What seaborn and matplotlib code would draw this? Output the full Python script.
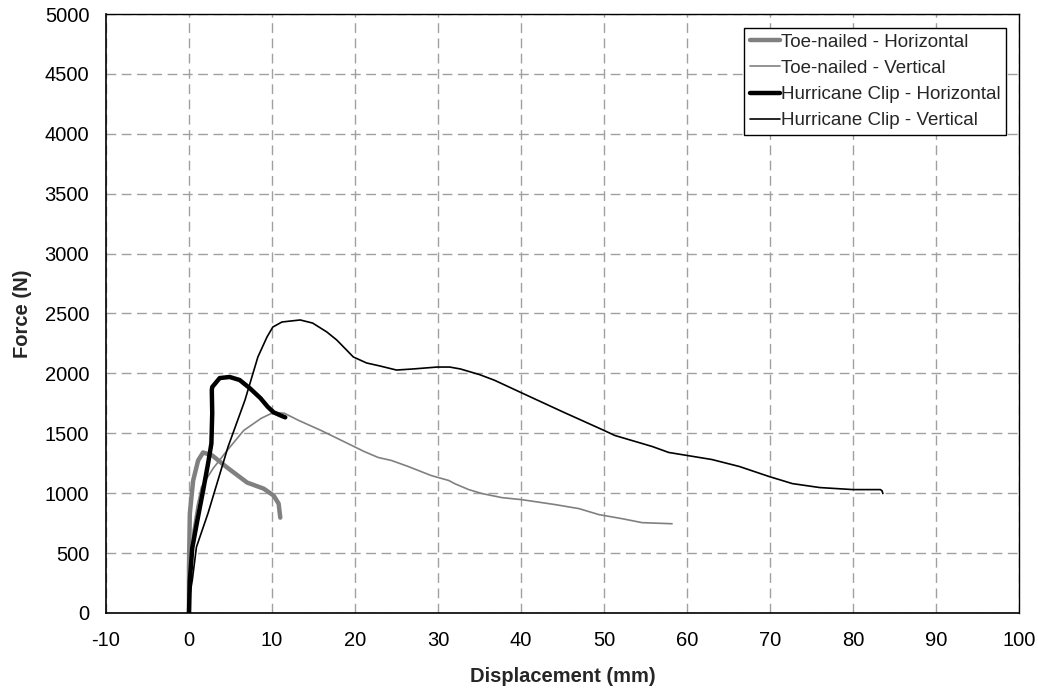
import matplotlib
matplotlib.use("Agg")
import matplotlib.pyplot as plt
import seaborn as sns
import pandas as pd

# ---- data ----
tn_h_x = [0, 0.0, 0.1, 0.5, 1.1, 1.7, 2.8, 4.6, 7.0, 9.0, 10.2, 10.8, 11.0]
tn_h_y = [0, 377, 829, 1105, 1273, 1340, 1315, 1214, 1089, 1038, 980, 913, 796]

tn_v_x = [0, 0.2, 0.5, 1.0, 1.5, 2.2, 2.9, 4.6, 6.6, 8.7, 10.2, 11.5, 13.2, 15.9,
          19.6, 21.1, 22.8, 24.4, 26.4, 29.2, 31.3, 32.0, 33.7, 35.3, 37.7, 40.1,
          44.1, 47.0, 48.2, 49.4, 52.2, 54.6, 58.2]
tn_v_y = [0, 400, 690, 900, 1050, 1130, 1206, 1357, 1524, 1625, 1675, 1667, 1608, 1524,
          1399, 1348, 1298, 1273, 1223, 1147, 1106, 1080, 1030, 997, 963, 946,
          905, 871, 846, 821, 787, 754, 745]

hc_h_x = [0, 0.1, 0.4, 1.0, 1.7, 2.3, 2.7, 2.8, 2.75, 2.8, 3.7, 4.9, 6.1, 7.3, 8.6,
          9.5, 10.2, 11.0, 11.6]
hc_h_y = [0, 268, 544, 770, 1022, 1248, 1415, 1667, 1860, 1886, 1961, 1970, 1945, 1878, 1794,
          1720, 1675, 1650, 1633]

hc_v_x = [0, 0.1, 0.4, 0.9, 2.3, 3.5, 4.7, 6.75, 8.3, 9.4, 10.1, 11.2, 13.4, 14.9, 16.6,
          17.8, 19.8, 21.4, 23.0, 25.0, 27.0, 29.9, 31.4, 32.7, 35.0, 36.8, 40.0, 45.0,
          50.0, 51.3, 55.8, 57.8, 63.0, 66.3, 69.9, 72.7, 76.0, 80.0, 83.3, 83.5, 83.6]
hc_v_y = [0, 150, 275, 551, 834, 1110, 1386, 1778, 2137, 2304, 2387, 2429, 2446, 2420, 2346,
          2279, 2137, 2087, 2062, 2028, 2037, 2053, 2053, 2037, 1990, 1943, 1840, 1680,
          1524, 1482, 1390, 1340, 1281, 1223, 1139, 1080, 1047, 1030, 1030, 1020, 997]

labels = ["Toe-nailed - Horizontal", "Toe-nailed - Vertical",
          "Hurricane Clip - Horizontal", "Hurricane Clip - Vertical"]

x_ticks = list(range(-10, 101, 10))
y_ticks = list(range(0, 5001, 500))

sns.set_style("white")
plt.rcParams["font.family"] = ["Liberation Sans", "DejaVu Sans"]
plt.rcParams["axes.unicode_minus"] = False

fig = plt.figure(figsize=(10.38, 7.0), dpi=100)
ax = fig.add_axes([0.1021, 0.1243, 0.8796, 0.8557])

series = [
    (tn_h_x, tn_h_y, labels[0], "#808080", 3.2),
    (tn_v_x, tn_v_y, labels[1], "#808080", 1.2),
    (hc_h_x, hc_h_y, labels[2], "#000000", 3.2),
    (hc_v_x, hc_v_y, labels[3], "#000000", 1.2),
]
for xs, ys, lab, col, lw in series:
    df = pd.DataFrame({"x": xs, "y": ys})
    sns.lineplot(data=df, x="x", y="y", sort=False, estimator=None, ax=ax,
                 color=col, linewidth=lw, label=lab)

ax.set_xlim(-10, 100)
ax.set_ylim(0, 5000)
ax.set_xticks(x_ticks)
ax.set_yticks(y_ticks)
ax.grid(True, color="#a0a0a0", linestyle=(0, (7, 4)), linewidth=1.0)
ax.set_axisbelow(True)
for s in ax.spines.values():
    s.set_visible(True)
    s.set_color("black")
    s.set_linewidth(1.2)
ax.spines["top"].set_linewidth(1.0)
ax.spines["right"].set_linewidth(1.0)
ax.tick_params(axis="both", which="major", direction="inout", length=8, width=1,
               labelsize=14.5, colors="black", pad=8)
ax.tick_params(axis="x", pad=9)
ax.set_xlabel("Displacement (mm)", fontsize=14.5, fontweight="bold", labelpad=12)
ax.set_ylabel("Force (N)", fontsize=14.5, fontweight="bold", labelpad=9)

leg = ax.legend(loc="upper right", bbox_to_anchor=(0.9855, 0.9765), fontsize=13.5,
                frameon=True, fancybox=False, framealpha=1, edgecolor="black",
                handlelength=1.6, handletextpad=0.05, labelspacing=0.48,
                borderpad=0.3, borderaxespad=0.0)
leg.get_frame().set_linewidth(1.0)

fig.savefig("out.png", dpi=100)
